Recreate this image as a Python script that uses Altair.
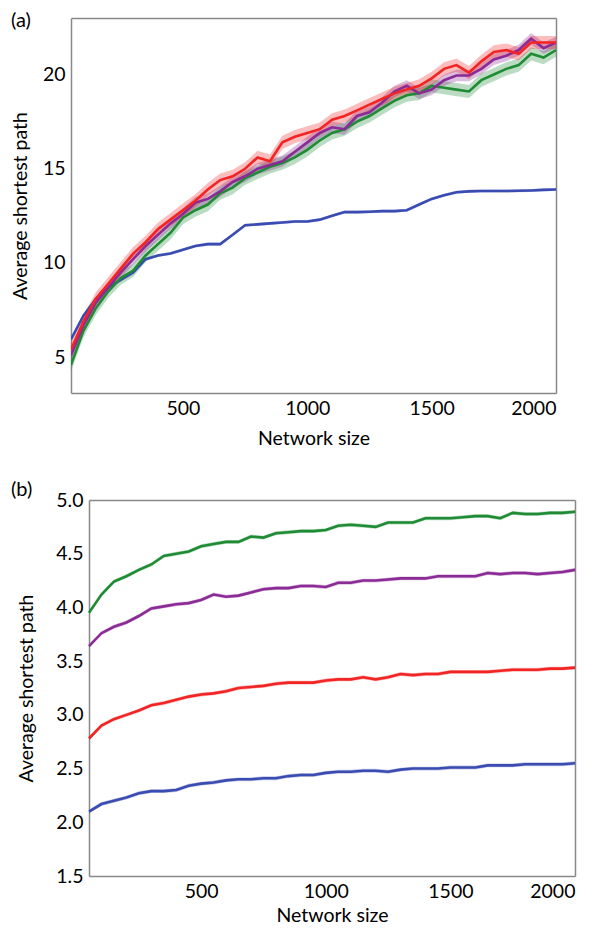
import altair as alt
import pandas as pd

sizes = list(range(50, 2001, 50))
series_names = ["blue", "green", "purple", "red"]
series_colors = ["#3a4cb2", "#1f8c35", "#8a2b96", "#f22424"]

# Panel (a)
a_blue = [5.95, 7.2, 8.1, 8.7, 9.1, 9.5, 10.2, 10.4, 10.5, 10.7, 10.9, 11.0, 11.0, 11.5, 12.0,
          12.05, 12.1, 12.15, 12.2, 12.2, 12.3, 12.5, 12.7, 12.7, 12.72, 12.75, 12.75, 12.8, 13.1, 13.4,
          13.6, 13.75, 13.8, 13.82, 13.82, 13.82, 13.83, 13.85, 13.88, 13.9]
a_red = [5.4, 6.9, 8.1, 8.9, 9.7, 10.5, 11.1, 11.8, 12.3, 12.8, 13.3, 13.9, 14.4, 14.6, 15.0,
         15.6, 15.4, 16.4, 16.7, 16.9, 17.1, 17.6, 17.8, 18.1, 18.4, 18.7, 19.0, 19.2, 19.4, 19.8,
         20.3, 20.5, 20.1, 20.7, 21.2, 21.3, 21.1, 21.7, 21.7, 21.7]
a_purple = [5.1, 6.7, 7.9, 8.7, 9.5, 10.2, 10.9, 11.5, 12.1, 12.6, 13.2, 13.4, 13.8, 14.3, 14.6,
            15.0, 15.2, 15.4, 15.9, 16.4, 16.9, 17.2, 17.1, 17.8, 18.0, 18.5, 19.1, 19.4, 19.0, 19.2,
            19.7, 19.95, 19.95, 20.3, 20.8, 21.0, 21.3, 21.9, 21.4, 21.7]
a_green = [4.6, 6.4, 7.6, 8.5, 9.2, 9.6, 10.4, 11.0, 11.6, 12.4, 12.8, 13.1, 13.7, 14.0, 14.5,
           14.8, 15.1, 15.3, 15.6, 16.0, 16.5, 16.9, 17.1, 17.5, 17.8, 18.2, 18.6, 18.9, 19.0, 19.4,
           19.3, 19.2, 19.1, 19.7, 20.0, 20.3, 20.5, 21.1, 20.9, 21.3]
a_halfwidth = [0.08, 0.35, 0.3, 0.35]

# Panel (b)
b_blue = [2.10, 2.17, 2.20, 2.23, 2.27, 2.29, 2.29, 2.30, 2.34, 2.36, 2.37, 2.39, 2.40, 2.40, 2.41,
          2.41, 2.43, 2.44, 2.44, 2.46, 2.47, 2.47, 2.48, 2.48, 2.47, 2.49, 2.50, 2.50, 2.50, 2.51,
          2.51, 2.51, 2.53, 2.53, 2.53, 2.54, 2.54, 2.54, 2.54, 2.55]
b_red = [2.78, 2.90, 2.96, 3.00, 3.04, 3.09, 3.11, 3.14, 3.17, 3.19, 3.20, 3.22, 3.25, 3.26, 3.27,
         3.29, 3.30, 3.30, 3.30, 3.32, 3.33, 3.33, 3.35, 3.33, 3.35, 3.38, 3.37, 3.38, 3.38, 3.40,
         3.40, 3.40, 3.40, 3.41, 3.42, 3.42, 3.42, 3.43, 3.43, 3.44]
b_purple = [3.64, 3.76, 3.82, 3.86, 3.92, 3.99, 4.01, 4.03, 4.04, 4.07, 4.12, 4.10, 4.11, 4.14, 4.17,
            4.18, 4.18, 4.20, 4.20, 4.19, 4.23, 4.23, 4.25, 4.25, 4.26, 4.27, 4.27, 4.27, 4.29, 4.29,
            4.29, 4.29, 4.32, 4.31, 4.32, 4.32, 4.31, 4.32, 4.33, 4.35]
b_green = [3.95, 4.12, 4.24, 4.29, 4.35, 4.40, 4.48, 4.50, 4.52, 4.57, 4.59, 4.61, 4.61, 4.66, 4.65,
           4.69, 4.70, 4.71, 4.71, 4.72, 4.76, 4.77, 4.76, 4.75, 4.79, 4.79, 4.79, 4.83, 4.83, 4.83,
           4.84, 4.85, 4.85, 4.83, 4.88, 4.87, 4.87, 4.88, 4.88, 4.89]
b_halfwidth = [0.018, 0.018, 0.018, 0.018]

x_ticks = [500, 1000, 1500, 2000]
a_yticks = [5, 10, 15, 20]
b_yticks = [1.5, 2.0, 2.5, 3.0, 3.5, 4.0, 4.5, 5.0]

FONT = "Lato"
FS = 19.5


def build_df(values_list, halfwidths):
    rows = []
    for name, vals, hw in zip(series_names, values_list, halfwidths):
        for xv, v in zip(sizes, vals):
            rows.append({"size": xv, "value": v, "lo": v - hw, "hi": v + hw, "series": name})
    return pd.DataFrame(rows)


def panel(df, label, ydomain, yticks, yfmt, label_y, title_pad, xtitle_pad, total_w, inset):
    color = alt.Color("series:N", scale=alt.Scale(domain=series_names, range=series_colors), legend=None)
    xscale = alt.Scale(domain=[50, 2000], nice=False, zero=False, range=[inset, total_w])
    yscale = alt.Scale(domain=ydomain, nice=False, zero=False)
    x_bottom = alt.X("size:Q", scale=xscale,
                     axis=alt.Axis(values=x_ticks, title="Network size", format="d",
                                   titlePadding=xtitle_pad))
    x_top = alt.X("size:Q", scale=xscale,
                  axis=alt.Axis(orient="top", labels=False, title=None, values=x_ticks))
    y_left = alt.Y("lo:Q", scale=yscale,
                   axis=alt.Axis(values=yticks, title="Average shortest path", format=yfmt,
                                 titlePadding=title_pad, offset=-inset))
    y_right = alt.Y("value:Q", scale=yscale,
                    axis=alt.Axis(orient="right", labels=False, title=None, values=yticks))
    band = alt.Chart(df).mark_area(opacity=0.3, clip=True).encode(
        x=x_bottom, y=y_left, y2="hi:Q", color=color, detail="series:N",
    )
    line = alt.Chart(df).mark_line(strokeWidth=2.6, clip=True).encode(
        x=x_top, y=y_right, color=color, detail="series:N",
    )
    lab = alt.Chart(pd.DataFrame({"t": [label]})).mark_text(
        align="left", baseline="top", fontSize=20, font=FONT, color="black"
    ).encode(text="t:N", x=alt.value(-60), y=alt.value(label_y))
    return alt.layer(band, line, lab).resolve_axis(x="independent", y="independent")


df_a = build_df([a_blue, a_green, a_purple, a_red], a_halfwidth)
df_b = build_df([b_blue, b_green, b_purple, b_red], b_halfwidth)

pa = panel(df_a, "(a)", [3.1, 23], a_yticks, "d", -7, 12, 12, 485, 0).properties(width=485, height=375)
pb = panel(df_b, "(b)", [1.5, 5.0], b_yticks, ".1f", -20, 19, 6, 504, 18).properties(width=504, height=376)

chart = alt.vconcat(pa, pb, spacing=32).properties(
    padding={"left": 2, "top": 3, "right": 5, "bottom": 2}
).configure_view(
    strokeOpacity=0
).configure_axis(
    domain=True, domainColor="#888888", domainWidth=1.5,
    ticks=False, grid=False,
    labelFont=FONT, titleFont=FONT, labelFontSize=FS, titleFontSize=FS,
    labelColor="black", titleColor="black", titleFontWeight="normal",
    labelPadding=6,
)

chart.save("out.html", embed_options={"renderer": "svg", "actions": False})
